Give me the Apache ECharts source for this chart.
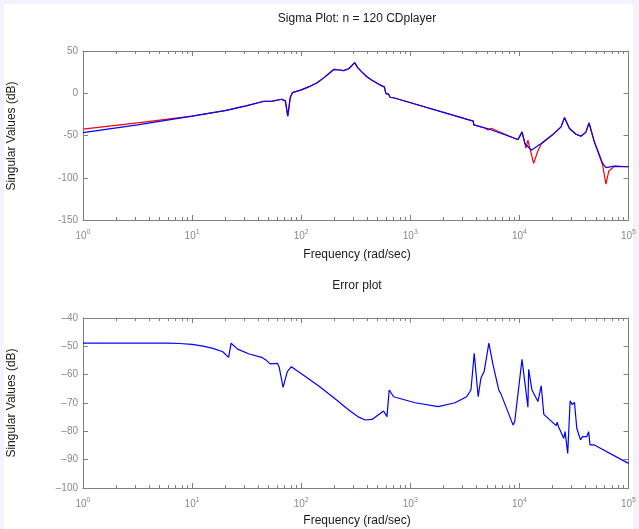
<!DOCTYPE html>
<html>
<head>
<meta charset="utf-8">
<script src="https://cdn.jsdelivr.net/npm/echarts@6/dist/echarts.min.js"></script>
<style>
  html, body { margin: 0; padding: 0; background: #f3f3fb; }
  #paper { position: absolute; left: 4px; top: 4px; width: 629px; height: 525px; background: #ffffff; }
  #chart { position: absolute; left: 0; top: 0; width: 639px; height: 529px; }
</style>
</head>
<body>
<div id="paper"></div>
<div id="chart"></div>
<script>
// ---- Data ----
const decadeLabels = [1, 10, 100, 1000, 10000, 100000];

const sigmaFreq = [1, 3.16, 10, 20, 31.2, 45.7, 54.6, 66.1, 71.6, 75.3, 79.4, 83.2, 100, 117, 140, 162, 182, 200, 225, 245, 273, 309, 331, 361, 400, 446, 500, 550, 578, 589, 598, 617, 631, 655, 703, 3776, 3819, 5164, 9705, 10000, 10568, 11220, 12853, 15849, 20000, 24099, 25882, 28774, 33000, 36728, 40738, 43451, 48642, 57943, 62087, 74131, 100000];
const sigmaBlue = [-46.5, -37.5, -27, -20.5, -15, -9.5, -9.4, -7.1, -9, -27, -5, 0.8, 4, 7.5, 12.5, 18.5, 24, 28.3, 27.5, 26.8, 29, 36.2, 30, 25, 19.5, 15.4, 11.5, 8.7, 7.5, 7.2, -0.4, 0.5, -1, -5, -5.3, -33, -37.5, -42, -54.8, -54, -45.7, -59.5, -67.4, -59.5, -49.5, -39.8, -28.8, -41.8, -48.5, -50.8, -46, -35, -57.5, -83, -88, -86.3, -87];

const sigmaRedFreq = [1, 3.16, 10, 20, 31.2, 45.7, 54.6, 66.1, 71.6, 75.3, 79.4, 83.2, 100, 117, 140, 162, 182, 200, 225, 245, 273, 309, 331, 361, 400, 446, 500, 550, 578, 589, 598, 617, 631, 655, 703, 3776, 3819, 4786, 5164, 5495, 9705, 10568, 11092, 11482, 11967, 13490, 14791, 15849, 20000, 24099, 25882, 28774, 33000, 36728, 40738, 43451, 48642, 57943, 62087, 66069, 74131, 100000];
const sigmaRed = [-42.5, -35, -27, -20.5, -15, -9.5, -9.4, -7.1, -9, -27, -5, 0.8, 4, 7.5, 12.5, 18.5, 24, 28.3, 27.5, 26.8, 29, 36.2, 30, 25, 19.5, 15.4, 11.5, 8.7, 7.5, 7.2, -0.4, 0.5, -1, -5, -5.3, -33, -37.5, -41, -43.5, -41.5, -55, -46, -56, -65, -55.5, -83, -68, -60, -49.5, -39.8, -28.8, -41.8, -48.5, -50.8, -46, -35, -57.5, -85, -107.6, -92, -86.5, -87];

const errFreq = [1, 3.16, 6, 7.67, 10, 12.6, 15.5, 19.1, 21.6, 22.8, 23.4, 26.1, 33.4, 44.2, 47.4, 51.9, 60.5, 62.7, 68.2, 74.6, 81.3, 110, 145, 207, 273, 337, 387, 446, 569, 611, 641, 703, 1107, 1807, 2570, 3281, 3597, 3855, 4188, 4436, 4753, 5248, 5741, 6471, 6745, 8750, 9057, 10568, 10940, 11967, 12162, 13032, 14791, 15311, 15849, 16749, 21727, 22182, 22856, 25527, 26242, 27733, 29174, 30409, 31989, 33574, 36308, 38019, 41400, 43152, 44361, 48642, 100000];
const errVals = [-48.9, -48.9, -48.9, -49.0, -49.3, -49.9, -50.7, -51.9, -53.9, -48.9, -49.5, -51, -52.7, -54, -54.8, -56.2, -56, -57.2, -64.5, -58.9, -57.2, -60.7, -64, -68.7, -72.5, -75, -76, -75.8, -72.8, -74.8, -65.4, -67.8, -69.9, -71.3, -69.9, -67.8, -65.4, -52.5, -67.8, -61.3, -58.9, -48.9, -56.6, -65.4, -66.6, -77.8, -76.6, -54.6, -55, -71.5, -58.1, -65.4, -69.5, -69.5, -63.9, -74, -78, -76.8, -78.4, -82.5, -80.1, -87.8, -69.2, -70.5, -69.8, -78.9, -83, -81.9, -81.9, -80.1, -84.8, -84.8, -91.3];

const sigmaY = { min: -150, max: 50, interval: 50 };
const errY = { min: -100, max: -40, interval: 10 };

// ---- Build ----
const FONT = '"Liberation Sans", Arial, Helvetica, sans-serif';
const AX = '#7f7f7f';
const LBL = '#8a8a8a';
const zip = (a, b) => a.map((v, i) => [v, b[i]]);

const minorFreqs = [];
for (let e = 0; e < 5; e++) for (let k = 2; k <= 9; k++) minorFreqs.push(k * Math.pow(10, e));

function xAx(gi, pos, labels) {
  return {
    type: 'log', logBase: 10, gridIndex: gi, position: pos,
    min: decadeLabels[0], max: decadeLabels[decadeLabels.length - 1], splitNumber: 5,
    axisLine: { show: true, onZero: false, lineStyle: { color: AX, width: 1 } },
    axisTick: { show: true, inside: true, length: 5, lineStyle: { color: AX } },
    splitLine: { show: false },
    axisLabel: {
      show: labels, margin: 9, color: LBL,
      formatter: v => '10{s|' + Math.round(Math.log10(v)) + '}',
      rich: { s: { fontSize: 7, color: LBL, verticalAlign: 'top', padding: [0, 0, 7, 0], fontFamily: FONT } },
      fontSize: 10, fontFamily: FONT
    }
  };
}
function yAx(gi, pos, rng, labels, minusChar) {
  return {
    type: 'value', gridIndex: gi, position: pos,
    min: rng.min, max: rng.max, interval: rng.interval,
    axisLine: { show: true, onZero: false, lineStyle: { color: AX, width: 1 } },
    axisTick: { show: true, inside: true, length: 5, lineStyle: { color: AX } },
    splitLine: { show: false },
    axisLabel: {
      show: labels, margin: 5, color: LBL, fontSize: 10, fontFamily: FONT,
      formatter: v => String(v).replace('-', minusChar)
    }
  };
}
function minorSeries(xi, yi, rng) {
  return {
    type: 'custom', xAxisIndex: xi, yAxisIndex: yi, silent: true, clip: false,
    data: minorFreqs.map(f => [f, rng.min]),
    renderItem: (params, api) => {
      const f = api.value(0);
      const b = api.coord([f, rng.min]);
      const t = api.coord([f, rng.max]);
      const x = Math.round(b[0]) + 0.5;
      return { type: 'group', children: [
        { type: 'line', shape: { x1: x, y1: b[1], x2: x, y2: b[1] - 3 }, style: { stroke: AX, lineWidth: 1 } },
        { type: 'line', shape: { x1: x, y1: t[1], x2: x, y2: t[1] + 3 }, style: { stroke: AX, lineWidth: 1 } }
      ]};
    }
  };
}
function lineSeries(xi, yi, data, color) {
  return {
    type: 'line', xAxisIndex: xi, yAxisIndex: yi, data: data, showSymbol: false, symbol: 'none',
    lineStyle: { color: color, width: 1.2 }, itemStyle: { color: color }, smooth: false, silent: true
  };
}
function txt(x, y, text, size, rot) {
  return {
    type: 'text', x: x, y: y, rotation: rot || 0, silent: true,
    style: { text: text, fontSize: size, fontFamily: FONT, fill: '#1a1a1a', align: 'center', verticalAlign: 'middle' }
  };
}

const chart = echarts.init(document.getElementById('chart'), null, { renderer: 'canvas' });
chart.setOption({
  animation: false,
  backgroundColor: 'transparent',
  grid: [
    { left: 83, top: 51, width: 548, height: 169 },
    { left: 83, top: 318, width: 548, height: 170 }
  ],
  xAxis: [xAx(0, 'bottom', true), xAx(0, 'top', false), xAx(1, 'bottom', true), xAx(1, 'top', false)],
  yAxis: [yAx(0, 'left', sigmaY, true, '-'), yAx(0, 'right', sigmaY, false, '-'),
          yAx(1, 'left', errY, true, '\u2013'), yAx(1, 'right', errY, false, '-')],
  series: [
    minorSeries(0, 0, sigmaY),
    minorSeries(2, 2, errY),
    lineSeries(0, 0, zip(sigmaRedFreq, sigmaRed), '#ff0000'),
    lineSeries(0, 0, zip(sigmaFreq, sigmaBlue), '#0000ff'),
    lineSeries(2, 2, zip(errFreq, errVals), '#0000ff')
  ],
  graphic: [
    txt(357, 19, 'Sigma Plot: n = 120 CDplayer', 12),
    txt(357, 255, 'Frequency (rad/sec)', 12),
    txt(12, 136, 'Singular Values (dB)', 12, Math.PI / 2),
    txt(357, 286, 'Error plot', 12),
    txt(357, 521, 'Frequency (rad/sec)', 12),
    txt(12, 403, 'Singular Values (dB)', 12, Math.PI / 2)
  ]
});
</script>
</body>
</html>
